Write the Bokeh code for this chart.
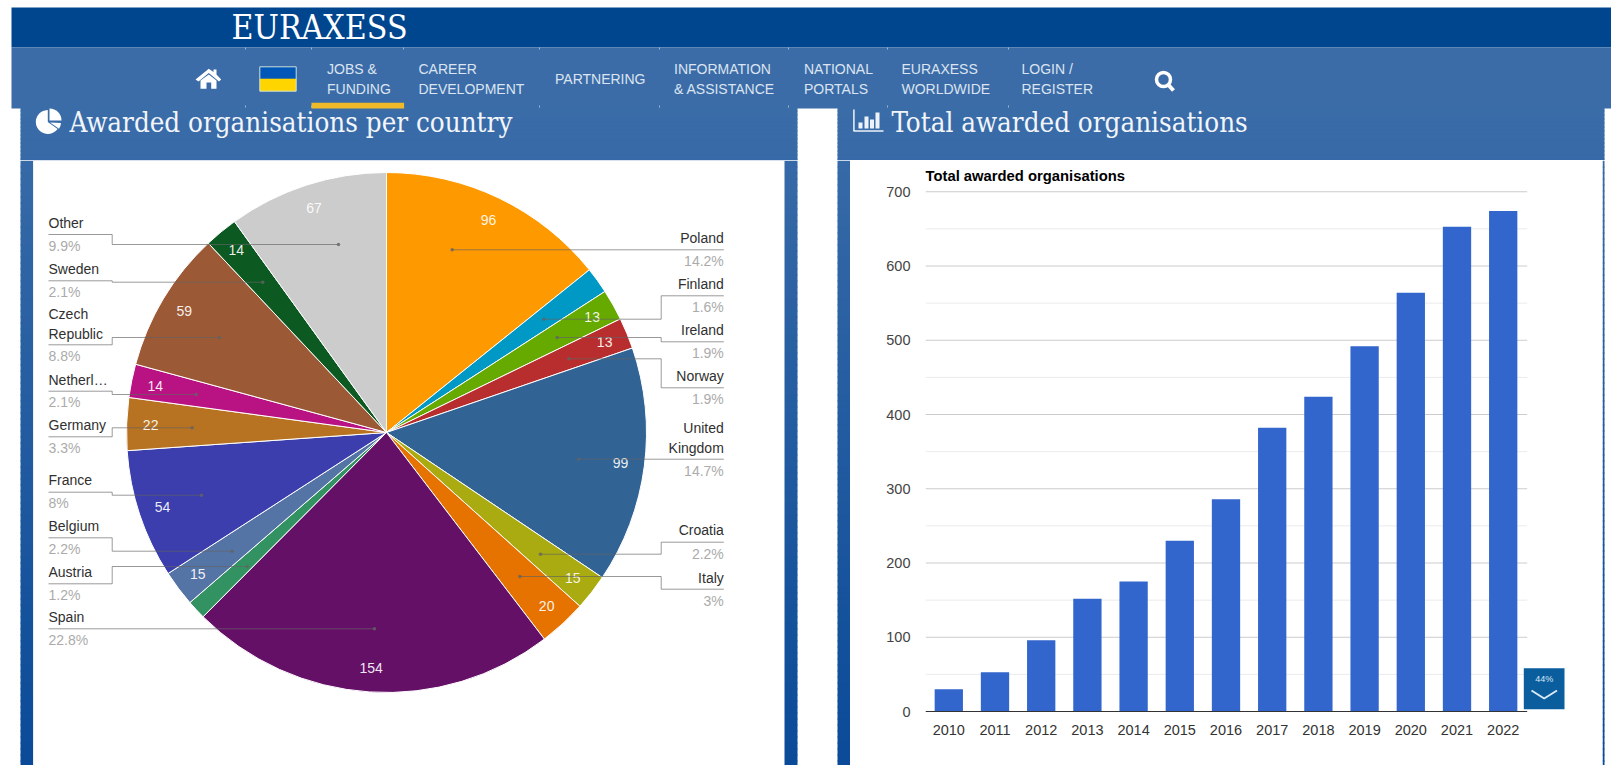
import math
from bokeh.plotting import figure
from bokeh.layouts import column, row
from bokeh.models import Range1d, FixedTicker, LinearAxis
from bokeh.core.properties import value
from bokeh.embed import file_html
from bokeh.resources import INLINE

# ---------- data ----------
countries = ["Poland", "Finland", "Ireland", "Norway", "United Kingdom", "Croatia", "Italy", "Spain",
             "Austria", "Belgium", "France", "Germany", "Netherlands", "Czech Republic", "Sweden", "Other"]
country_values = [96, 11, 13, 13, 99, 15, 20, 154, 8, 15, 54, 22, 14, 59, 14, 67]
country_colors = ["#ff9900", "#0099c6", "#66aa00", "#b82e2e", "#316395", "#aaaa11", "#e67300", "#651067",
                  "#329262", "#5574a6", "#3b3eac", "#b77322", "#b91383", "#9c5935", "#0c5922", "#cccccc"]
country_shares = ["14.2%", "1.6%", "1.9%", "1.9%", "14.7%", "2.2%", "3%", "22.8%",
                  "1.2%", "2.2%", "8%", "3.3%", "2.1%", "8.8%", "2.1%", "9.9%"]
value_hidden = ["Finland", "Austria"]

years = [2010, 2011, 2012, 2013, 2014, 2015, 2016, 2017, 2018, 2019, 2020, 2021, 2022]
awarded = [30, 53, 96, 152, 175, 230, 286, 382, 424, 492, 564, 653, 674]
major_ticks = [0, 100, 200, 300, 400, 500, 600, 700]
minor_ticks = [50, 150, 250, 350, 450, 550, 650]

nav_items = [("JOBS &", 326.5, 68), ("FUNDING", 326.5, 88.5), ("CAREER", 418, 68), ("DEVELOPMENT", 418, 88.5),
             ("PARTNERING", 554.5, 78.5), ("INFORMATION", 673.5, 68), ("& ASSISTANCE", 673.5, 88.5),
             ("NATIONAL", 803.5, 68), ("PORTALS", 803.5, 88.5), ("EURAXESS", 901, 68), ("WORLDWIDE", 901, 88.5),
             ("LOGIN /", 1021, 68), ("REGISTER", 1021, 88.5)]

# ---------- label layout, page pixels ----------
# side, name lines (text, y), underline y, share y, elbow y, dot x
label_layout = {
    "Poland": ("r", [("Poland", 237.5)], 249.3, 260.7, 249.3, 451.7),
    "Finland": ("r", [("Finland", 283.5)], 295.3, 306.7, 318.7, 543.3),
    "Ireland": ("r", [("Ireland", 329.5)], 341.3, 352.7, 337, 556.7),
    "Norway": ("r", [("Norway", 375.5)], 387.3, 398.7, 358.3, 568.3),
    "United Kingdom": ("r", [("United", 427.5), ("Kingdom", 447)], 458.7, 470, 458.7, 578.3),
    "Croatia": ("r", [("Croatia", 529.5)], 541.7, 553, 553.7, 540),
    "Italy": ("r", [("Italy", 577)], 588.7, 600, 576, 519.3),
    "Spain": ("l", [("Spain", 616.5)], 628.3, 639.3, 628.3, 374),
    "Austria": ("l", [("Austria", 571.5)], 583.3, 594.7, 566, 246.7),
    "Belgium": ("l", [("Belgium", 525.5)], 537.3, 548.7, 550.7, 231.7),
    "France": ("l", [("France", 479.5)], 491.7, 502.7, 494.7, 201),
    "Germany": ("l", [("Germany", 424.5)], 436.3, 447.3, 427.3, 191.7),
    "Netherlands": ("l", [("Netherl\u2026", 379)], 390.7, 401.3, 394, 195.7),
    "Czech Republic": ("l", [("Czech", 313.5), ("Republic", 333)], 344.3, 355.3, 337, 219),
    "Sweden": ("l", [("Sweden", 268.5)], 280.3, 291, 281.7, 262.3),
    "Other": ("l", [("Other", 222.5)], 234, 245, 244, 338),
}

SANS = value("Liberation Sans")
SLAB = value("DejaVu Serif Condensed")


def canvas(x0, x1, y0, y1):
    """A figure whose data coordinates are page pixels (y stored negated)."""
    p = figure(width=round(x1 - x0), height=round(y1 - y0), x_range=Range1d(x0, x1), y_range=Range1d(-y1, -y0),
               x_axis_location=None, y_axis_location=None, toolbar_location=None, output_backend="svg",
               min_border=0, outline_line_color=None, background_fill_color="white", border_fill_color="white",
               frame_align=False)
    p.grid.visible = False
    return p


def shade(y):
    t = max(0.0, min(1.0, (y - 108) / (765 - 108)))
    a, b = (0x3a, 0x6c, 0xa8), (0x0a, 0x4a, 0x98)
    return "#%02x%02x%02x" % tuple(round(u + (v - u) * t) for u, v in zip(a, b))


def strip(p, x0, x1, y0, y1, step=6):
    ys = list(range(int(y0), int(y1), step))
    p.quad(left=[x0] * len(ys), right=[x1] * len(ys), top=[-y for y in ys], bottom=[-(y + step + 1) for y in ys],
           fill_color=[shade(y) for y in ys], line_color=None)


# ---------- header ----------
head = canvas(0, 1611, 0, 160)
head.quad(left=[11], right=[1611], top=[-7], bottom=[-47], fill_color="#00468f", line_color=None)
head.quad(left=[11], right=[1611], top=[-47], bottom=[-108], fill_color="#3b6ca8", line_color=None)
strip(head, 20, 797, 106, 160, 4)
strip(head, 837, 1604, 106, 160, 4)
head.text([231], [-27], ["EURAXESS"], text_font=SLAB, text_font_size="33.5px", text_color="white",
          text_baseline="middle")
head.text([i[1] for i in nav_items], [-i[2] for i in nav_items], [i[0] for i in nav_items], text_font=SANS,
          text_font_size="14px", text_color="#dbe4f0", text_baseline="middle")
seps = [245, 311, 403, 539, 659, 788, 887, 1008]
head.segment(seps, [-47] * 8, seps, [-49] * 8, line_color="#9db6d4", line_width=1)
head.segment(seps, [-105] * 8, seps, [-107] * 8, line_color="#9db6d4", line_width=1)
# home icon
head.patch([208.3, 213, 213, 216, 216, 220.7, 218.5, 208.3, 198, 195],
           [-68.3, -71.5, -69, -69, -74, -79, -81, -72.5, -81, -79], fill_color="white", line_color=None)
head.patch([200, 208.3, 216, 216, 210.7, 210.7, 206, 206, 200],
           [-80, -74, -80, -88.3, -88.3, -82, -82, -88.3, -88.3], fill_color="white", line_color=None)
# flag
head.quad(left=[259.3], right=[295.7], top=[-66.3], bottom=[-78.3], fill_color="#0057b7", line_color=None)
head.quad(left=[259.3], right=[295.7], top=[-78.3], bottom=[-90.7], fill_color="#ffd500", line_color=None)
head.quad(left=[259.3], right=[295.7], top=[-66.3], bottom=[-90.7], fill_color=None, line_color="#cfe0d8")
head.quad(left=[311], right=[403.6], top=[-102.3], bottom=[-108], fill_color="#f0b92a", line_color=None)
# search icon
head.scatter([1163], [-79], marker="circle", size=14, fill_color=None, line_color="white", line_width=3.5)
head.segment([1167.5], [-84], [1173], [-90], line_color="white", line_width=4)
# section titles
head.wedge([47.3], [-121.5], radius=12, start_angle=math.radians(-35), end_angle=math.radians(90), direction="clock",
           fill_color="white", line_color=None)
head.wedge([49], [-120], radius=12, start_angle=0, end_angle=math.radians(90), fill_color="white", line_color=None)
head.wedge([49.5], [-122], radius=11, start_angle=math.radians(-35), end_angle=math.radians(-3),
           fill_color="white", line_color=None)
head.text([69, 891], [-121, -121], ["Awarded organisations per country", "Total awarded organisations"],
          text_font=SLAB, text_font_size="27.5px", text_color="#f2f5f9", text_baseline="middle")
head.segment([853.4, 853], [-109, -130.4], [853.4, 883], [-130.4, -130.4], line_color="#eef3f9", line_width=1.5)
head.quad(left=[858, 864, 869.5, 875], right=[862, 868, 873.5, 879], top=[-122, -116, -119, -112],
          bottom=[-128] * 4, fill_color="#eef3f9", line_color=None)

# ---------- pie panel ----------
pie = canvas(0, 850, 160, 765)
strip(pie, 20, 797, 160, 765)
strip(pie, 837, 850, 160, 765)
pie.quad(left=[32.6], right=[784], top=[-160], bottom=[-765], fill_color="white", line_color=None)

CX, CY, R = 386, 432, 260
total = sum(country_values)
cum = [sum(country_values[:i]) for i in range(len(country_values) + 1)]
start = [math.pi / 2 - 2 * math.pi * c / total for c in cum[:-1]]
end = [math.pi / 2 - 2 * math.pi * c / total for c in cum[1:]]
pie.wedge([CX] * len(start), [-CY] * len(start), radius=R, start_angle=start, end_angle=end, direction="clock",
          fill_color=country_colors, line_color="white", line_width=1)

# white value labels, on each slice's middle angle
vx, vy, vt = [], [], []
for c, v, s, e in zip(countries, country_values, start, end):
    if c in value_hidden:
        continue
    mid = (s + e) / 2
    vx.append(CX + 236 * math.cos(mid))
    vy.append(-CY + 236 * math.sin(mid))
    vt.append(str(v))
pie.text(vx, vy, vt, text_font=SANS, text_font_size="14px", text_color="white", text_align="center",
         text_baseline="middle", text_alpha=0.92)

# leaders and outside labels
lx, ly, dx, dy = [], [], [], []
tx, ty, tt, ta = [], [], [], []
sx, sy, st, sa = [], [], [], []
for c, share in zip(countries, country_shares):
    side, lines, under, share_y, elbow, dot = label_layout[c]
    edge_x, knee, align = (723.3, 660.7, "right") if side == "r" else (48, 111.7, "left")
    lx.append([edge_x, knee, knee, dot])
    ly.append([-under, -under, -elbow, -elbow])
    dx.append(dot)
    dy.append(-elbow)
    for line, y in lines:
        tx.append(edge_x); ty.append(-y); tt.append(line); ta.append(align)
    sx.append(edge_x); sy.append(-share_y); st.append(share); sa.append(align)
pie.multi_line(lx, ly, line_color="#636363", line_alpha=0.65, line_width=1)
pie.scatter(dx, dy, marker="circle", size=3.5, fill_color="#636363", fill_alpha=0.8, line_color=None)
pie.text(tx, ty, tt, text_font=SANS, text_font_size="14px", text_color="#303030", text_align=ta,
         text_baseline="middle")
pie.text(sx, sy, st, text_font=SANS, text_font_size="14px", text_color="#ababab", text_align=sa,
         text_baseline="middle")

# ---------- bar panel ----------
FL, FR, FT, FB, Y0 = 925, 1602, 188, 714, 711
UNIT, STEP, FIRST = 0.7425, 46.2, 948.3
bar = figure(width=752, height=605, toolbar_location=None, output_backend="svg",
             x_range=Range1d(years[0] - (FIRST - FL) / STEP, years[0] + (FR - FIRST) / STEP),
             y_range=Range1d(-(FB - Y0) / UNIT, (Y0 - FT) / UNIT),
             x_axis_location=None, y_axis_location=None, frame_align=False,
             min_border_left=FL - 850, min_border_right=0, min_border_top=FT - 160, min_border_bottom=765 - FB,
             outline_line_color=None, background_fill_color="white", border_fill_color="white",
             title="Total awarded organisations")
bar.grid.visible = False
bar.title.text_font = "Liberation Sans"
bar.title.text_font_size = "14.8px"
bar.title.text_font_style = "bold"
bar.title.text_color = "black"
bar.title.offset = 0
bar.title.standoff = 9
gx0, gx1 = years[0] - (FIRST - FL) / STEP, years[0] + (1526.7 - FIRST) / STEP
bar.segment([gx0] * len(minor_ticks), minor_ticks, [gx1] * len(minor_ticks), minor_ticks,
            line_color="#ebebeb", line_width=1)
bar.segment([gx0] * 7, major_ticks[1:], [gx1] * 7, major_ticks[1:], line_color="#cccccc", line_width=1)
bar.vbar(x=years, top=awarded, bottom=0, width=28.3 / STEP, fill_color="#3366cc", line_color=None)
bar.segment([gx0], [0], [gx1], [0], line_color="#333333", line_width=1)

yaxis = LinearAxis(ticker=FixedTicker(ticks=major_ticks), axis_line_color=None, major_tick_line_color=None,
                   minor_tick_line_color=None, major_label_standoff=9, major_label_text_font="Liberation Sans",
                   major_label_text_font_size="14.5px", major_label_text_color="#444444")
bar.add_layout(yaxis, "left")
xaxis = LinearAxis(ticker=FixedTicker(ticks=years), axis_line_color=None, major_tick_line_color=None,
                   minor_tick_line_color=None, major_label_standoff=4, major_label_text_font="Liberation Sans",
                   major_label_text_font_size="14.5px", major_label_text_color="#333333",
                   major_label_overrides={y: str(y) for y in years})
bar.add_layout(xaxis, "below")

# scroll badge, page pixels
bar.extra_x_ranges["px"] = Range1d(FL, FR)
bar.extra_y_ranges["px"] = Range1d(-FB, -FT)
bar.quad(left=[1523.3], right=[1564], top=[-667.7], bottom=[-708.7], fill_color="#0a5e9e", line_color=None,
         x_range_name="px", y_range_name="px")
bar.text([1543.7], [-678.5], ["44%"], text_font=SANS, text_font_size="9px", text_color="#d8e8f4",
         text_align="center", text_baseline="middle", x_range_name="px", y_range_name="px")
bar.line([1531, 1543.7, 1556.5], [-690, -698, -690], line_color="#d8eaf6", line_width=2,
         x_range_name="px", y_range_name="px")

# ---------- right edge ----------
edge = canvas(1602, 1611, 160, 765)
strip(edge, 1602, 1604, 160, 765)

page = column(head, row(pie, bar, edge, spacing=0), spacing=0)
open("out.html", "w").write(file_html(page, INLINE))
